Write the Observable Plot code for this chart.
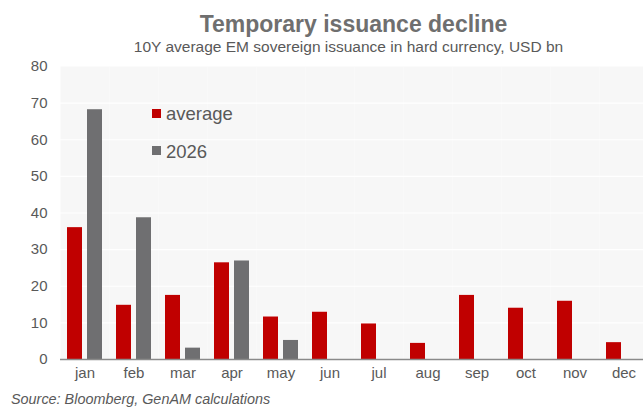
<!DOCTYPE html>
<html><head><meta charset="utf-8">
<script src="https://cdn.jsdelivr.net/npm/d3@7"></script>
<script src="https://cdn.jsdelivr.net/npm/@observablehq/plot@0.6"></script>
<style>
body{margin:0;background:#fff;font-family:"Liberation Sans",Arial,sans-serif;}
#wrap{position:relative;width:643px;height:408px;overflow:hidden;}
#chart svg{max-width:none;display:block;}
.t{position:absolute;white-space:nowrap;}
#title{left:59px;width:589px;text-align:center;top:13.2px;font-size:23px;line-height:23px;font-weight:bold;color:#6f6f6f;}
#subtitle{left:54px;width:589px;text-align:center;top:39px;font-size:15.5px;line-height:15.5px;color:#595959;}
.lg{font-size:18.5px;line-height:18.5px;color:#595959;left:166px;}
.sq{position:absolute;width:9px;height:9px;left:152px;}
#source{left:11px;top:391.8px;font-size:14.4px;line-height:14.4px;font-style:italic;color:#595959;}
</style></head><body>
<div id="wrap">
  <div id="chart"></div>
  <div id="title" class="t">Temporary issuance decline</div>
  <div id="subtitle" class="t">10Y average EM sovereign issuance in hard currency, USD bn</div>
  <div id="legend"></div>
  <div id="source" class="t">Source: Bloomberg, GenAM calculations</div>
</div>
<script>
const months = ["jan","feb","mar","apr","may","jun","jul","aug","sep","oct","nov","dec"];
const average = [36.0, 14.8, 17.5, 26.4, 11.6, 12.9, 9.7, 4.4, 17.5, 14.0, 15.9, 4.6];
const y2026 = [68.2, 38.7, 3.1, 26.9, 5.2, null, null, null, null, null, null, null];
const series = ["average", "2026"];
const colors = ["#c00000", "#6f6f71"];
const yTicks = [0, 10, 20, 30, 40, 50, 60, 70, 80];

const data = [];
months.forEach((m, i) => {
  data.push({month: m, series: "average", value: average[i]});
  if (y2026[i] != null) data.push({month: m, series: "2026", value: y2026[i]});
});

const chart = Plot.plot({
  width: 649,
  height: 390,
  marginTop: 66,
  marginBottom: 31,
  marginLeft: 59,
  marginRight: 0,
  style: {fontFamily: '"Liberation Sans", Arial, sans-serif', fontSize: "15px", color: "#595959", background: "transparent"},
  fx: {domain: months, padding: 0, label: null},
  x: {domain: series, paddingInner: 0.24, paddingOuter: 0.31, axis: null},
  y: {domain: [0, 80], label: null},
  color: {domain: series, range: colors},
  marks: [
    Plot.frame({fill: "#f7f7f7", stroke: "none"}),
    Plot.gridY(yTicks.filter(d => d > 0 && d < 80), {stroke: "#ffffff", strokeOpacity: 1, strokeWidth: 1.2}),
    Plot.barY(data, {fx: "month", x: "series", y: "value", fill: "series"}),
    Plot.ruleY([0], {stroke: "#8a8a8a", strokeWidth: 1.3}),
    Plot.axisY(yTicks, {tickSize: 0, tickPadding: 13, label: null, fontSize: 15, fill: "#595959"}),
    Plot.axisFx({anchor: "bottom", tickSize: 0, tickPadding: 8, label: null, fontSize: 15, fill: "#595959"})
  ]
});
document.getElementById("chart").appendChild(chart);

const legend = document.getElementById("legend");
const lgTops = [105.3, 143.3];
const sqTops = [109.2, 145.5];
series.forEach((s, i) => {
  const sq = document.createElement("div");
  sq.className = "sq";
  sq.style.top = sqTops[i] + "px";
  sq.style.background = colors[i];
  legend.appendChild(sq);
  const t = document.createElement("div");
  t.className = "t lg";
  t.style.top = lgTops[i] + "px";
  t.textContent = s;
  legend.appendChild(t);
});
</script>
</body></html>
